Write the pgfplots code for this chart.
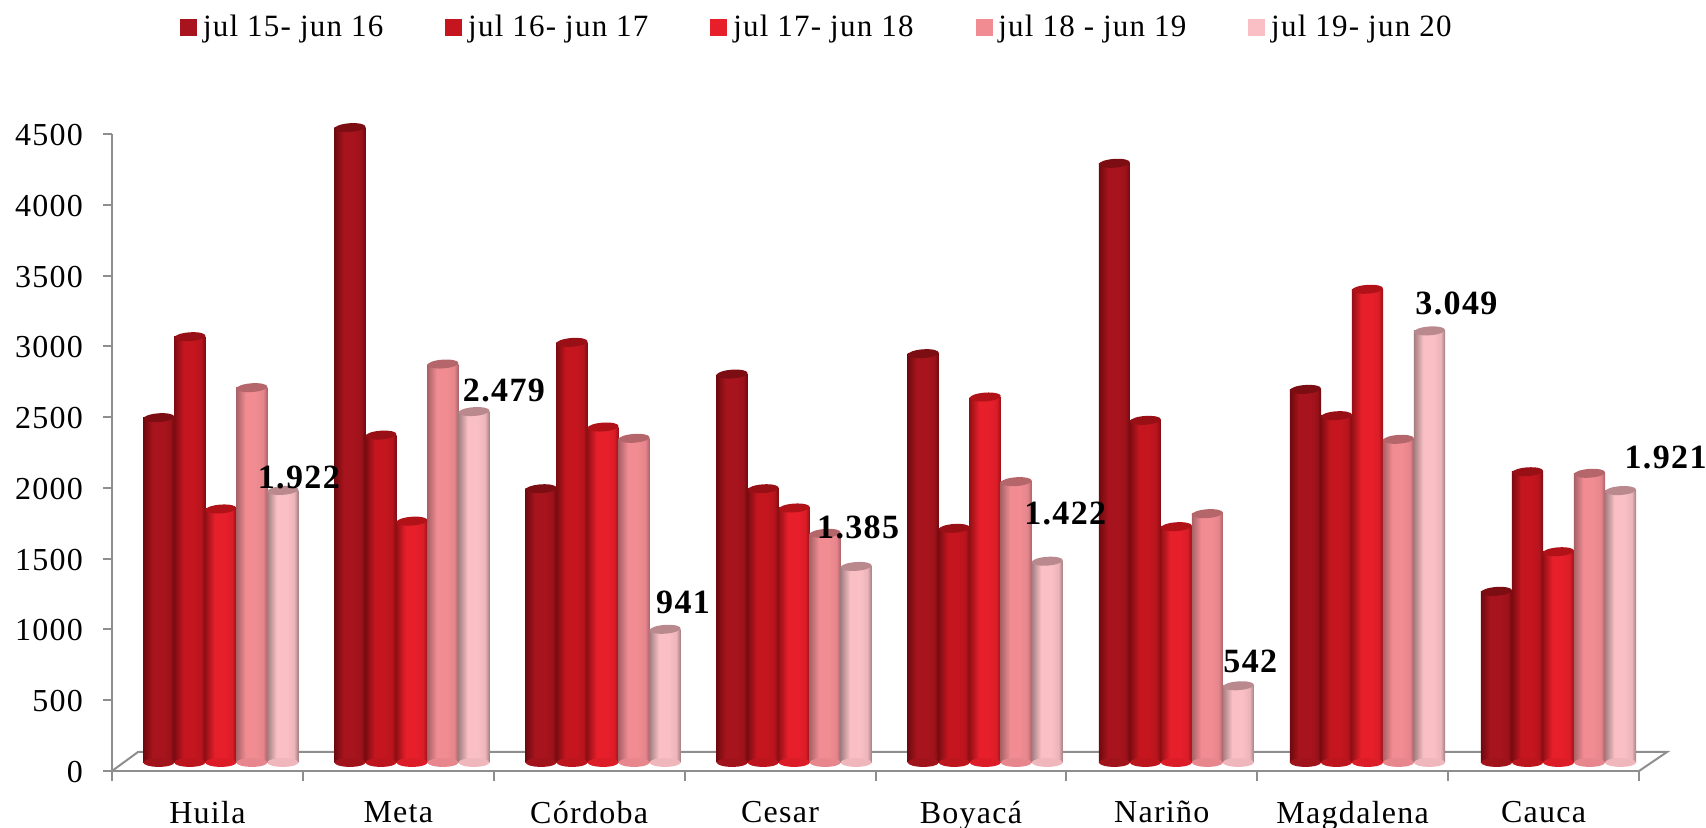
\documentclass[border=0pt]{standalone}
\usepackage{fontspec}
\setmainfont[LetterSpace=4]{Liberation Serif}
\usepackage{pgfplots}
\usepackage{pgfplotstable}
\pgfplotsset{compat=1.18}
\definecolor{axgray}{HTML}{8E8E8E}
\definecolor{ca}{HTML}{A8141D}\definecolor{cad}{HTML}{6E0A0F}\definecolor{cac}{HTML}{7C0D12}
\definecolor{cb}{HTML}{C5161F}\definecolor{cbd}{HTML}{7C0C12}\definecolor{cbc}{HTML}{990F16}
\definecolor{cc}{HTML}{E61F2B}\definecolor{ccd}{HTML}{951015}\definecolor{ccc}{HTML}{B01218}
\definecolor{cd}{HTML}{F08C92}\definecolor{cdd}{HTML}{A86267}\definecolor{cdc}{HTML}{B4666B}
\definecolor{ce}{HTML}{F9BFC4}\definecolor{ced}{HTML}{A37E81}\definecolor{cec}{HTML}{B9898D}
\pgfdeclarehorizontalshading{cyla}{100bp}{color(0bp)=(cad);color(25bp)=(cad);color(40bp)=(ca);color(56bp)=(ca);color(68bp)=(ca!80!cad);color(75bp)=(cad);color(100bp)=(cad)}
\pgfdeclarehorizontalshading{cylb}{100bp}{color(0bp)=(cbd);color(25bp)=(cbd);color(40bp)=(cb);color(56bp)=(cb);color(68bp)=(cb!80!cbd);color(75bp)=(cbd);color(100bp)=(cbd)}
\pgfdeclarehorizontalshading{cylc}{100bp}{color(0bp)=(ccd);color(25bp)=(ccd);color(40bp)=(cc);color(56bp)=(cc);color(68bp)=(cc!85!ccd);color(75bp)=(ccd);color(100bp)=(ccd)}
\pgfdeclarehorizontalshading{cyld}{100bp}{color(0bp)=(cdd);color(25bp)=(cdd);color(40bp)=(cd);color(56bp)=(cd);color(68bp)=(cd!85!cdd);color(75bp)=(cdd);color(100bp)=(cdd)}
\pgfdeclarehorizontalshading{cyle}{100bp}{color(0bp)=(ced);color(25bp)=(ced);color(40bp)=(ce);color(56bp)=(ce);color(68bp)=(ce!85!ced);color(75bp)=(ced);color(100bp)=(ced)}
\pgfdeclareplotmark{capell}{\pgfpathellipse{\pgfpointorigin}{\pgfqpoint{7.75pt}{0.5pt}}{\pgfqpoint{0pt}{2.2pt}}\pgfusepathqfill}
\pgfdeclareplotmark{baseell}{\pgfpathellipse{\pgfpointorigin}{\pgfqpoint{7.75pt}{0pt}}{\pgfqpoint{0pt}{2.2pt}}\pgfusepathqfill}
\pgfplotstableread{
dept a b c d e lab ldx ldy
Huila 2436 3008 1791 2648 1922 1.922 8 6.5
Meta 4485 2313 1705 2815 2479 2.479 15 10.5
Cordoba 1934 2968 2370 2290 941 941 9 13.5
Cesar 2744 1934 1798 1619 1385 1.385 1 19.4
Boyaca 2888 1654 2582 1984 1422 1.422 9 24
Narino 4233 2417 1666 1758 542 542 6 12
Magdalena 2636 2450 3343 2283 3049 3.049 13.5 13.5
Cauca 1209 2054 1489 2043 1921 1.921 22.5 16.5
}\datatab
\newcommand{\cyl}[3]{% column, slot offset, shading and colour suffix
  \addplot[forget plot,only marks,mark=baseell,mark options={fill=c#3!88!c#3d,draw=none}]
    table[x expr=\coordindex*1.0012+0.5+#2*0.1624,y expr=0]{\datatab};
  \pgfplotsinvokeforeach{0,...,7}{%
    \addplot[forget plot,ybar,bar width=15.6pt,bar shift=0pt,draw=none,shade,shading=cyl#3,
      restrict expr to domain={\coordindex}{##1:##1}]
      table[x expr=\coordindex*1.0012+0.5+#2*0.1624,y=#1]{\datatab};
  }
  \addplot[forget plot,only marks,mark=capell,mark options={fill=c#3c,draw=none}]
    table[x expr=\coordindex*1.0012+0.5+#2*0.1624,y=#1]{\datatab};
}
\begin{document}
\begin{tikzpicture}[x=1pt,y=1pt]
\useasboundingbox (0,0) rectangle (853,414);
% floor (px/2; image y measured from the bottom)
\draw[axgray,line width=1pt] (56,28.5) -- (69,38) -- (833.5,38) -- (819.5,28.5);
\begin{axis}[
  at={(56pt,28.5pt)},anchor=origin,
  scale only axis,width=763.5pt,height=318.5pt,
  xmin=0,xmax=8,ymin=0,ymax=4500,
  axis lines=left,axis line style={-,axgray,line width=1pt},
  ytick={0,500,...,4500},
  xtick={0.5,1.5,...,7.5},
  xticklabels={Huila,Meta,Córdoba,Cesar,Boyacá,Nariño,Magdalena,Cauca},
  minor xtick={0,1,...,8},
  tick align=outside,
  major x tick style={draw=none},
  minor x tick style={axgray,line width=1pt},
  minor tick length=5pt,
  y tick style={axgray,line width=1pt},
  major tick length=4.5pt,
  ticklabel style={font=\fontsize{16}{18}\selectfont,text=black},
  yticklabel style={xshift=-6.5pt,yshift=-0.5pt},
  xticklabel style={yshift=-7pt},
  /pgf/number format/assume math mode=true,
  /pgf/number format/1000 sep={},
]
\end{axis}
\begin{axis}[
  at={(62.7pt,32.75pt)},anchor=origin,
  scale only axis,width=763.5pt,height=318.5pt,
  xmin=0,xmax=8,ymin=0,ymax=4500,
  hide axis,clip=false,
  legend style={at={(0.4535,1.1545)},anchor=center,draw=none,fill=none,
    legend columns=5,font=\fontsize{15.5}{18}\selectfont,
    /tikz/every even column/.append style={column sep=29pt}},
  legend cell align=left,
  legend image code/.code={\fill[#1] (0pt,-4pt) rectangle (8pt,4pt);\path (9pt,0pt);},
]
\addlegendimage{ca}\addlegendentry{jul 15- jun 16}
\addlegendimage{cb}\addlegendentry{jul 16- jun 17}
\addlegendimage{cc}\addlegendentry{jul 17- jun 18}
\addlegendimage{cd}\addlegendentry{jul 18 - jun 19\hspace{-4.5pt}}
\addlegendimage{ce}\addlegendentry{jul 19- jun 20}
\cyl{a}{-2}{a}
\cyl{b}{-1}{b}
\cyl{c}{0}{c}
\cyl{d}{1}{d}
\cyl{e}{2}{e}
\addplot[forget plot,draw=none,mark=none,
  visualization depends on={\thisrow{ldx}\as\ldx},
  visualization depends on={\thisrow{ldy}\as\ldy},
  point meta=explicit symbolic,
  nodes near coords,
  every node near coord/.append style={anchor=center,xshift=\ldx pt,yshift=\ldy pt,
    font=\fontsize{17}{18}\selectfont\bfseries,text=black},
] table[x expr=\coordindex*1.0012+0.5+2*0.1624,y=e,meta=lab]{\datatab};
\end{axis}
\end{tikzpicture}
\end{document}
